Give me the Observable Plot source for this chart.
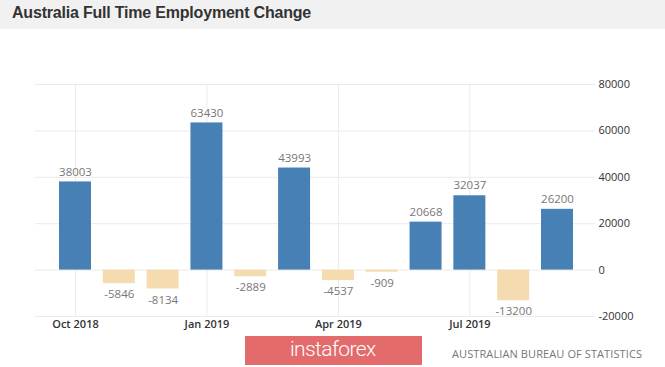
<!DOCTYPE html>
<html>
<head>
<meta charset="utf-8">
<script src="https://cdn.jsdelivr.net/npm/d3@7"></script>
<script src="https://cdn.jsdelivr.net/npm/@observablehq/plot@0.6"></script>
<style>
  html, body { margin: 0; padding: 0; background: #fff; overflow: hidden; }
  #page { position: relative; width: 665px; height: 367px; }
  #header { position: absolute; left: 0; top: 0; width: 665px; height: 29px; background: #f1f1f1; }
  #title { position: absolute; left: 12px; top: 4px; font: bold 16px "Liberation Sans", Arial, sans-serif; color: #333; letter-spacing: -0.2px; }
  #chart { position: absolute; left: 0; top: 28px; }
  #logo { position: absolute; left: 245px; top: 336px; width: 177px; height: 29px; background: #e36b6b; }
  #logo span { position: absolute; left: 45px; top: 1px; font: 300 21px Roboto, sans-serif; color: #fff; letter-spacing: -0.6px; }
  #source { position: absolute; left: 452px; top: 346px; font: 11px "Open Sans", sans-serif; color: #777; letter-spacing: 0.1px; }
</style>
</head>
<body>
<div id="page">
  <div id="header"><div id="title">Australia Full Time Employment Change</div></div>
  <div id="chart"></div>
  <div id="logo"><span>instaforex</span></div>
  <div id="source">AUSTRALIAN BUREAU OF STATISTICS</div>
</div>
<script>
const months = ["Oct 2018","Nov 2018","Dec 2018","Jan 2019","Feb 2019","Mar 2019","Apr 2019","May 2019","Jun 2019","Jul 2019","Aug 2019","Sep 2019"];
const values = [38003, -5846, -8134, 63430, -2889, 43993, -4537, -909, 20668, 32037, -13200, 26200];
const tickMonths = ["Oct 2018","Jan 2019","Apr 2019","Jul 2019"];
const yTicks = [-20000, 0, 20000, 40000, 60000, 80000];

const data = months.map((m, i) => ({month: m, value: values[i]}));
const pos = data.filter(d => d.value >= 0);
const neg = data.filter(d => d.value < 0);

const chart = Plot.plot({
  width: 665,
  height: 310,
  marginLeft: 35,
  marginRight: 70,
  marginTop: 56,
  marginBottom: 22,
  style: {fontFamily: "'Open Sans', sans-serif", background: "transparent"},
  x: {type: "band", domain: months, paddingInner: 0.27, paddingOuter: 0, round: false, insetLeft: 24, insetRight: 22, axis: null, label: null},
  y: {domain: [-20000, 80000], axis: null, label: null},
  marks: [
    Plot.ruleY(yTicks, {stroke: "#ebebeb", strokeWidth: 1}),
    Plot.ruleX(tickMonths, {x: d => d, stroke: "#ebebeb", strokeWidth: 1}),
    Plot.barY(pos, {x: "month", y: "value", fill: "#4680b5"}),
    Plot.barY(neg, {x: "month", y: "value", fill: "#f5dcb0"}),
    Plot.text(pos, {x: "month", y: "value", text: d => String(d.value), dy: -10, fill: "#777", fontSize: 11.5}),
    Plot.text(neg, {x: "month", y: "value", text: d => String(d.value), dy: 11, fill: "#777", fontSize: 11.5}),
    Plot.axisY({anchor: "right", ticks: yTicks, tickSize: 0, tickPadding: 3, tickFormat: d => String(d), fontSize: 11, fill: "#333", label: null}),
    Plot.axisX({ticks: tickMonths, tickSize: 0, tickPadding: 4, tickFormat: d => d, fontSize: 11, fontWeight: 600, fill: "#333", label: null})
  ]
});
document.getElementById("chart").appendChild(chart);
</script>
</body>
</html>
